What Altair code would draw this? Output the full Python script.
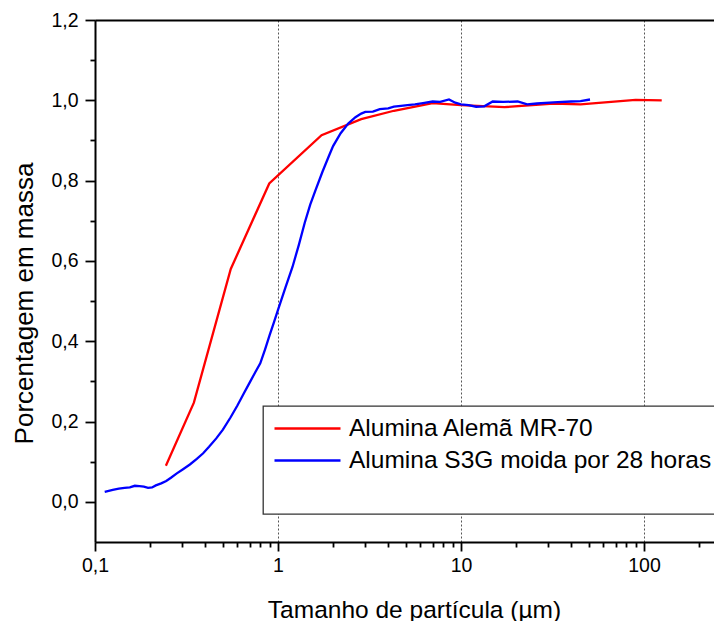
import altair as alt
import pandas as pd

# ---- data ----
red_name = "Alumina Alemã MR-70"
blue_name = "Alumina S3G moida por 28 horas"

red_x = [0.244, 0.347, 0.552, 0.896, 1.73, 2.85, 4.3, 7.0, 10.0, 17.3, 32.0, 45.0, 90.0, 125.0]
red_y = [0.090, 0.247, 0.580, 0.793, 0.913, 0.953, 0.974, 0.993, 0.988, 0.983, 0.992, 0.990, 1.001, 1.000]

blue_x = [0.113, 0.125, 0.135, 0.145, 0.155, 0.165, 0.175, 0.185, 0.195, 0.205, 0.215, 0.230,
          0.245, 0.26, 0.28, 0.30, 0.33, 0.36, 0.39, 0.42, 0.46, 0.50, 0.55, 0.60, 0.65, 0.70,
          0.75, 0.80, 0.85, 0.90, 0.95, 1.00, 1.10, 1.20, 1.30, 1.40, 1.50, 1.60, 1.75, 1.90,
          2.00, 2.20, 2.42, 2.65, 2.85, 3.0, 3.3, 3.6, 4.0, 4.3, 4.7, 5.1, 5.6, 6.2, 7.0, 7.7,
          8.6, 9.3, 10.0, 11.0, 12.1, 13.4, 14.9, 17.0, 20.4, 23.0, 26.0, 32.0, 40.0, 45.0, 50.7]
blue_y = [0.025, 0.030, 0.033, 0.035, 0.036, 0.040, 0.039, 0.038, 0.035, 0.036, 0.041, 0.046,
          0.052, 0.060, 0.071, 0.080, 0.093, 0.107, 0.121, 0.137, 0.158, 0.180, 0.210, 0.240,
          0.270, 0.297, 0.322, 0.345, 0.380, 0.415, 0.447, 0.478, 0.535, 0.585, 0.640, 0.695,
          0.740, 0.775, 0.822, 0.862, 0.886, 0.918, 0.942, 0.958, 0.967, 0.971, 0.972, 0.978,
          0.980, 0.984, 0.986, 0.988, 0.990, 0.993, 0.997, 0.996, 1.002, 0.994, 0.990, 0.988,
          0.984, 0.985, 0.997, 0.996, 0.997, 0.990, 0.992, 0.995, 0.997, 0.998, 1.002]

x_major = [0.1, 1, 10, 100]
x_minor = [0.2, 0.3, 0.4, 0.5, 0.6, 0.7, 0.8, 0.9, 2, 3, 4, 5, 6, 7, 8, 9,
           20, 30, 40, 50, 60, 70, 80, 90, 200]
y_major = [0.0, 0.2, 0.4, 0.6, 0.8, 1.0, 1.2]
y_minor = [0.1, 0.3, 0.5, 0.7, 0.9, 1.1]

x_domain = [0.1, 241.3]
y_domain = [-0.1, 1.2]

df = pd.concat([
    pd.DataFrame({"x": red_x, "y": red_y, "s": red_name, "o": range(len(red_x))}),
    pd.DataFrame({"x": blue_x, "y": blue_y, "s": blue_name, "o": range(len(blue_x))}),
])

FONT = "Liberation Sans"
xscale = alt.Scale(type="log", domain=x_domain, nice=False)
yscale = alt.Scale(domain=y_domain, nice=False, zero=False)

base = alt.Chart(df)

main = base.mark_line(strokeWidth=2.3, clip=True).encode(
    x=alt.X("x:Q", scale=xscale, axis=alt.Axis(
        orient="bottom", values=x_major, title="Tamanho de partícula (µm)",
        labelExpr="datum.value < 1 ? '0,1' : format(datum.value, 'd')",
        labelOverlap=False, labelFlush=False, labelBound=False,
        grid=True, gridDash=[2, 2], gridColor="#555", gridWidth=1,
        tickSize=9, tickWidth=1.8, tickColor="black", domainColor="black", domainWidth=2,
        labelFont=FONT, labelFontSize=19.5, labelColor="black", labelPadding=5,
        titleFont=FONT, titleFontSize=24.5, titleFontWeight="normal", titleColor="black",
        titleX=319, titleY=75, titleBaseline="alphabetic", titleAlign="center")),
    y=alt.Y("y:Q", scale=yscale, axis=alt.Axis(
        orient="left", values=y_major, title="Porcentagem em massa",
        labelExpr="replace(format(datum.value, '.1f'), '.', ',')",
        labelOverlap=False,
        grid=False, tickSize=10, tickWidth=1.8, tickColor="black",
        domainColor="black", domainWidth=2,
        labelFont=FONT, labelFontSize=19.5, labelColor="black", labelPadding=7,
        titleFont=FONT, titleFontSize=26, titleFontWeight="normal", titleColor="black",
        titleX=-63, titleY=283, titleAngle=270, titleBaseline="alphabetic",
        titleAlign="center")),
    color=alt.Color("s:N", scale=alt.Scale(
        domain=[red_name, blue_name, " "], range=["#ff0000", "#0000ff", "transparent"]),
        legend=alt.Legend(title=None, orient="none", legendX=168, legendY=386)),
    order="o:Q",
)

minor = base.mark_line(opacity=0).encode(
    x=alt.X("x:Q", scale=xscale, axis=alt.Axis(
        orient="bottom", values=x_minor, labels=False, title=None, grid=False,
        tickSize=5, tickWidth=1.8, tickColor="black", domain=False)),
    y=alt.Y("y:Q", scale=yscale, axis=alt.Axis(
        orient="left", values=y_minor, labels=False, title=None, grid=False,
        tickSize=5, tickWidth=1.8, tickColor="black", domain=False)),
    detail="s:N",
)

top = base.mark_line(opacity=0).encode(
    x=alt.X("x:Q", scale=xscale, axis=alt.Axis(
        orient="top", labels=False, ticks=False, title=None, grid=False,
        domainColor="black", domainWidth=2)),
    y=alt.Y("y:Q", scale=yscale, axis=None),
    detail="s:N",
)

chart = alt.layer(main, minor, top).resolve_axis(x="independent", y="independent").properties(
    width=619, height=522,
    padding={"left": 87, "top": 12, "right": 0, "bottom": 80},
    autosize=alt.AutoSizeParams(type="none"),
).configure_view(stroke=None).configure_legend(
    labelFont=FONT, labelFontSize=24.5, labelColor="black", labelLimit=1000,
    symbolType="M-3,0H3", symbolSize=484, symbolStrokeWidth=2.5,
    symbolOffset=22, labelOffset=29,
    padding=10, rowPadding=7,
    fillColor="white", strokeColor="#333", strokeWidth=1.3,
)

chart.save("out.html", embed_options={"renderer": "svg", "actions": False})
